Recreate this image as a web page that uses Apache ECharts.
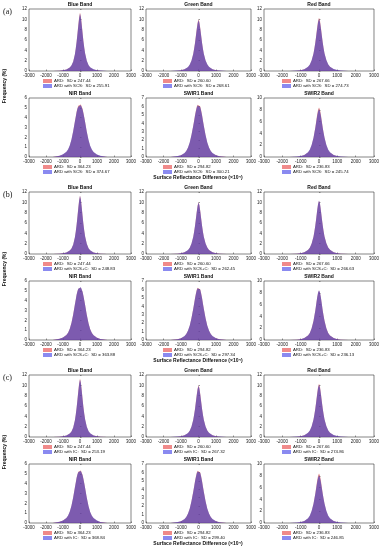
<!DOCTYPE html>
<html><head><meta charset="utf-8">
<script src="https://cdn.jsdelivr.net/npm/echarts@6/dist/echarts.min.js"></script>
<style>html,body{margin:0;padding:0;background:#fff}#c{width:382px;height:550px}</style>
</head><body><div id="c"></div>
<script>
// ---- data ----
const xs = [-1600,-1200,-1000,-800,-700,-600,-500,-400,-300,-250,-200,-150,-100,-50,0,50,100,150,200,250,300,400,500,600,700,800,1000,1200,1600];
const bandNames = ['Blue Band','Green Band','Red Band','NIR Band','SWIR1 Band','SWIR2 Band'];
const yMax = [12,12,12,6,7,10];
const yStep = [2,2,2,1,1,2];
const groupLabels = ['(a)','(b)','(c)'];
const methods = ['SCS','SCS+C','IC'];
const ardSD = ['247.44','260.60','267.66','364.23','294.82','236.83'];
const scsSD = ['255.91','268.61','274.73','374.67','300.21','245.74'];
const scscSD = ['248.83','262.45','266.63','363.88','297.34','236.13'];
const icSD = ['253.19','267.32','274.86','368.84','299.40','246.85'];

const ardBlue  = [0,0.06,0.13,0.28,0.42,0.66,1.05,1.8,3.2,4.3,5.6,7.2,8.9,10.4,11.3,10.6,9.1,7.4,5.8,4.5,3.4,1.95,1.1,0.7,0.45,0.3,0.14,0.07,0];
const ardGreen = [0,0.07,0.15,0.33,0.5,0.75,1.2,2.0,3.3,4.3,5.4,6.8,8.2,9.4,10.0,9.5,8.3,6.9,5.5,4.35,3.35,2.05,1.25,0.78,0.5,0.34,0.15,0.07,0];
const ardRed   = [0,0.07,0.15,0.34,0.52,0.78,1.22,2.05,3.35,4.35,5.5,6.9,8.4,9.7,10.3,9.8,8.5,7.0,5.6,4.4,3.4,2.1,1.28,0.8,0.52,0.35,0.16,0.07,0];
const ardNIR   = [0,0.12,0.25,0.5,0.75,1.15,1.75,2.6,3.6,4.1,4.6,4.95,5.2,5.35,5.4,5.35,5.15,4.9,4.5,4.05,3.55,2.55,1.7,1.1,0.72,0.48,0.24,0.11,0];
const ardSWIR1 = [0,0.1,0.2,0.45,0.7,1.1,1.7,2.6,3.7,4.3,4.95,5.5,5.95,6.2,6.3,6.25,6.0,5.55,5.0,4.35,3.75,2.6,1.7,1.1,0.7,0.45,0.2,0.09,0];
const ardSWIR2 = [0,0.06,0.14,0.32,0.48,0.75,1.2,2.0,3.2,4.1,5.0,6.1,7.2,8.0,8.4,8.05,7.25,6.15,5.05,4.1,3.25,2.0,1.2,0.75,0.48,0.32,0.14,0.06,0];

const scsBlue  = [0,0.07,0.14,0.3,0.45,0.7,1.1,1.85,3.25,4.35,5.6,7.1,8.7,10.2,11.1,10.4,8.9,7.3,5.75,4.5,3.45,2.0,1.15,0.74,0.48,0.32,0.15,0.08,0];
const scsGreen = [0,0.08,0.16,0.35,0.52,0.78,1.24,2.05,3.35,4.3,5.35,6.7,8.05,9.2,9.8,9.3,8.15,6.8,5.45,4.35,3.4,2.1,1.3,0.8,0.52,0.36,0.16,0.08,0];
const scsRed   = [0,0.08,0.16,0.36,0.55,0.82,1.27,2.1,3.4,4.35,5.45,6.8,8.2,9.45,10.05,9.55,8.3,6.9,5.55,4.4,3.45,2.15,1.32,0.84,0.55,0.37,0.17,0.08,0];
const scsNIR   = [0,0.13,0.27,0.53,0.78,1.2,1.8,2.65,3.6,4.08,4.55,4.9,5.12,5.27,5.32,5.27,5.08,4.83,4.45,4.02,3.55,2.58,1.75,1.15,0.76,0.51,0.26,0.12,0];
const scsSWIR1 = [0,0.11,0.21,0.47,0.72,1.13,1.74,2.63,3.7,4.28,4.9,5.42,5.85,6.1,6.2,6.15,5.9,5.47,4.95,4.32,3.74,2.63,1.74,1.13,0.72,0.47,0.21,0.1,0];
const scsSWIR2 = [0,0.07,0.15,0.35,0.52,0.8,1.26,2.08,3.25,4.1,4.95,5.95,6.95,7.7,8.1,7.75,7.0,6.0,5.0,4.1,3.3,2.08,1.26,0.8,0.52,0.35,0.15,0.07,0];

const scscBlue  = [0,0.06,0.13,0.29,0.43,0.67,1.06,1.82,3.22,4.3,5.6,7.15,8.85,10.35,11.25,10.55,9.05,7.35,5.8,4.5,3.4,1.96,1.12,0.71,0.46,0.3,0.14,0.07,0];
const scscGreen = [0,0.07,0.15,0.34,0.51,0.76,1.21,2.02,3.32,4.3,5.4,6.75,8.15,9.3,9.95,9.45,8.25,6.85,5.5,4.35,3.37,2.07,1.27,0.79,0.51,0.35,0.15,0.07,0];
const scscRed   = [0,0.07,0.15,0.34,0.52,0.78,1.22,2.05,3.35,4.35,5.5,6.9,8.4,9.7,10.35,9.8,8.5,7.0,5.6,4.4,3.4,2.1,1.28,0.8,0.52,0.35,0.16,0.07,0];
const scscNIR   = [0,0.12,0.25,0.5,0.75,1.15,1.75,2.6,3.6,4.1,4.6,4.96,5.21,5.36,5.41,5.36,5.16,4.9,4.5,4.05,3.55,2.55,1.7,1.1,0.72,0.48,0.24,0.11,0];
const scscSWIR1 = [0,0.1,0.21,0.46,0.71,1.12,1.72,2.62,3.7,4.29,4.92,5.46,5.9,6.15,6.25,6.2,5.95,5.5,4.97,4.33,3.75,2.62,1.72,1.12,0.71,0.46,0.21,0.09,0];
const scscSWIR2 = [0,0.06,0.14,0.32,0.48,0.75,1.2,2.0,3.2,4.1,5.0,6.12,7.22,8.03,8.43,8.08,7.27,6.17,5.06,4.1,3.25,2.0,1.2,0.75,0.48,0.32,0.14,0.06,0];

const icBlue  = [0,0.07,0.14,0.29,0.44,0.69,1.08,1.84,3.24,4.32,5.6,7.12,8.75,10.25,11.15,10.45,8.95,7.3,5.75,4.5,3.42,1.98,1.14,0.73,0.47,0.31,0.15,0.07,0];
const icGreen = [0,0.08,0.16,0.35,0.52,0.77,1.23,2.04,3.34,4.3,5.37,6.72,8.1,9.25,9.85,9.35,8.2,6.82,5.47,4.35,3.38,2.08,1.28,0.8,0.52,0.35,0.16,0.08,0];
const icRed   = [0,0.08,0.16,0.36,0.55,0.82,1.27,2.1,3.4,4.35,5.45,6.8,8.25,9.5,10.1,9.6,8.35,6.9,5.55,4.4,3.45,2.15,1.32,0.84,0.55,0.37,0.17,0.08,0];
const icNIR   = [0,0.12,0.26,0.52,0.77,1.18,1.78,2.62,3.6,4.09,4.57,4.92,5.16,5.3,5.36,5.3,5.11,4.86,4.47,4.03,3.55,2.57,1.72,1.12,0.74,0.5,0.25,0.11,0];
const icSWIR1 = [0,0.11,0.21,0.46,0.72,1.12,1.73,2.62,3.7,4.29,4.91,5.44,5.88,6.12,6.22,6.17,5.92,5.48,4.96,4.33,3.75,2.62,1.73,1.12,0.71,0.46,0.21,0.1,0];
const icSWIR2 = [0,0.07,0.15,0.35,0.52,0.8,1.26,2.08,3.25,4.1,4.95,5.93,6.92,7.67,8.07,7.72,6.97,5.98,5.0,4.1,3.3,2.08,1.26,0.8,0.52,0.35,0.15,0.07,0];

const ardData = [ardBlue,ardGreen,ardRed,ardNIR,ardSWIR1,ardSWIR2];
const corrData = [
  [scsBlue,scsGreen,scsRed,scsNIR,scsSWIR1,scsSWIR2],
  [scscBlue,scscGreen,scscRed,scscNIR,scscSWIR1,scscSWIR2],
  [icBlue,icGreen,icRed,icNIR,icSWIR1,icSWIR2]
];
const corrSD = [scsSD, scscSD, icSD];

// ---- layout ----
const groupOffset = [0,183,366];
const colLeft = [29,146,264];
const colWidth = [102,105,110];
const rowTop = [9,98];
const rowHeight = [62,59];
const legendShift = [14,17,18];

const grids=[],xAxes=[],yAxes=[],series=[],titles=[],legends=[],graphics=[];
const FONT = 'Liberation Sans';
let gi = 0;
for (let g=0; g<3; g++) {
  for (let b=0; b<6; b++) {
    const r = Math.floor(b/3), c = b%3;
    const top = groupOffset[g] + rowTop[r];
    const h = rowHeight[r];
    const left = colLeft[c], w = colWidth[c];
    grids.push({left:left, top:top, width:w, height:h, show:true, borderColor:'#333', borderWidth:0.6, backgroundColor:'#fff'});
    xAxes.push({type:'value', gridIndex:gi, min:-3000, max:3000, interval:1000,
      axisLine:{show:false}, splitLine:{show:false},
      axisTick:{show:true, inside:true, length:1.5, lineStyle:{color:'#333', width:0.5}},
      axisLabel:{fontSize:4.5, margin:2, color:'#222', fontFamily:FONT, formatter:v=>String(v)}});
    yAxes.push({type:'value', gridIndex:gi, min:0, max:yMax[b], interval:yStep[b],
      axisLine:{show:false}, splitLine:{show:false},
      axisTick:{show:true, inside:true, length:1.5, lineStyle:{color:'#333', width:0.5}},
      axisLabel:{fontSize:4.5, margin:2, color:'#222', fontFamily:FONT, formatter:v=>String(v)}});
    const ardName = 'ARD:  SD = ' + ardSD[b];
    const corrName = 'ARD with ' + methods[g] + ':  SD = ' + corrSD[g][b];
    series.push({type:'line', name:ardName, xAxisIndex:gi, yAxisIndex:gi,
      data: xs.map((x,k)=>[x, ardData[b][k]]), symbol:'none', silent:true,
      itemStyle:{color:'#f08a8a'}, lineStyle:{width:0}, areaStyle:{color:'rgba(200,60,60,0.6)', opacity:1}});
    series.push({type:'line', name:corrName, xAxisIndex:gi, yAxisIndex:gi,
      data: xs.map((x,k)=>[x, corrData[g][b][k]]), symbol:'none', silent:true,
      itemStyle:{color:'#8a8af0'}, lineStyle:{width:0}, areaStyle:{color:'rgba(60,60,200,0.6)', opacity:1}});
    titles.push({text:bandNames[b], left:left + w/2, top:top-7, textAlign:'center', padding:0,
      textStyle:{fontSize:5, fontWeight:'bold', color:'#111', fontFamily:FONT}});
    legends.push({data:[ardName, corrName], orient:'vertical', left:left + legendShift[c], top:top+h+8,
      itemWidth:9, itemHeight:4, itemGap:1, padding:0, icon:'rect',
      textStyle:{fontSize:4.3, color:'#111', padding:[0,0,0,-3], fontFamily:FONT}, selectedMode:false});
    gi++;
  }
  graphics.push({type:'text', left:3, top:groupOffset[g]+8, style:{text:groupLabels[g], fontSize:8, fontFamily:'Liberation Serif', fill:'#111'}});
  graphics.push({type:'text', x:5, y:groupOffset[g]+86, rotation:Math.PI/2, style:{text:'Frequency (%)', fontSize:5, fontWeight:'bold', fontFamily:FONT, fill:'#111', align:'center', verticalAlign:'middle'}});
  graphics.push({type:'text', x:198, y:groupOffset[g]+178, style:{text:'Surface Reflectance Difference (×10⁴)', fontSize:5, fontWeight:'bold', fontFamily:FONT, fill:'#111', align:'center', verticalAlign:'middle'}});
}

const chart = echarts.init(document.getElementById('c'), null, {renderer:'canvas'});
chart.setOption({animation:false, backgroundColor:'#fff', grid:grids, xAxis:xAxes, yAxis:yAxes,
  series:series, title:titles, legend:legends, graphic:graphics});
</script>
</body></html>
